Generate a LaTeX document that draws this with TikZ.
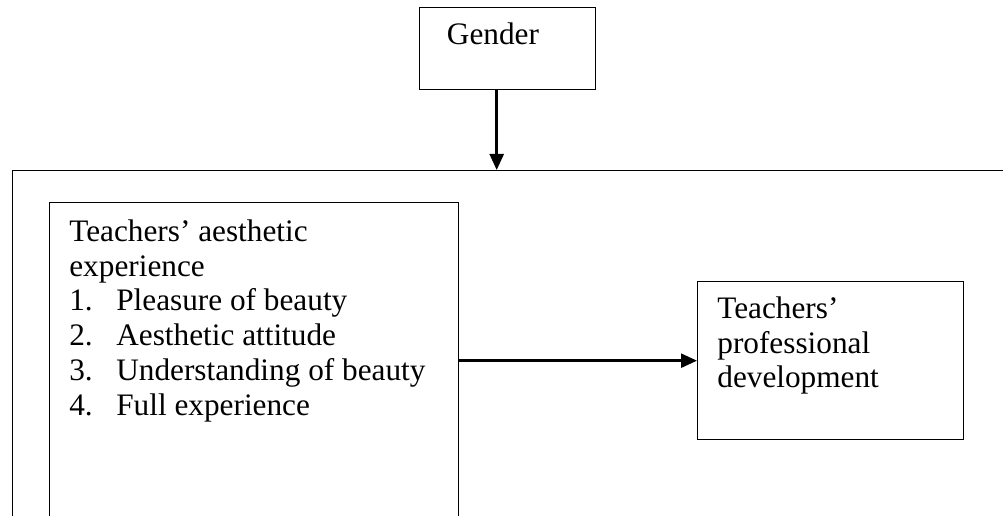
\documentclass[tikz,border=0pt]{standalone}
\usepackage{fontspec}
\setmainfont{Liberation Serif}
\usetikzlibrary{arrows.meta,positioning}

\newcommand{\itemline}[2]{\makebox[0.94cm][l]{#1.}#2}

\begin{document}
\begin{tikzpicture}[x=0.02cm, y=-0.02cm, >={Triangle[length=0.32cm,width=0.28cm]},
    box/.style={draw, line width=0.8pt, inner sep=0pt},
    txt/.style={inner sep=0pt, font=\fontsize{17.8}{19.9}\selectfont, align=left},
    link/.style={->, line width=1.4pt}]
        \clip (0,0) rectangle (1003,516);

        % Outer frame (runs off the page)
        \node[box, anchor=north west, minimum width=20.4cm, minimum height=7.4cm] (frame) at (12,170) {};

        % Gender
        \node[box, anchor=north west, minimum width=3.52cm, minimum height=1.64cm] (gender) at (419,7) {};
        \node[txt, anchor=base] (gendertxt) at (493,45) {Gender};

        % Aesthetic experience
        \node[box, anchor=north west, minimum width=8.18cm, minimum height=7.2cm] (aes) at (49,202) {};
        \node[txt, anchor=north west] (aestxt) at (69,219) {Teachers’ aesthetic\\experience\\
            \itemline{1}{Pleasure of beauty}\\
            \itemline{2}{Aesthetic attitude}\\
            \itemline{3}{Understanding of beauty}\\
            \itemline{4}{Full experience}};

        % Professional development
        \node[box, anchor=north west, minimum width=5.32cm, minimum height=3.16cm] (dev) at (697,281) {};
        \node[txt, anchor=north west] (devtxt) at (717,296) {Teachers’\\professional\\development};

        % Arrows
        \draw[link] ([xshift=-0.22cm]gender.south) -- ([xshift=-0.22cm]gender.south |- frame.north);
        \draw[link] (aes.east |- dev.west) -- (dev.west);
\end{tikzpicture}
\end{document}
